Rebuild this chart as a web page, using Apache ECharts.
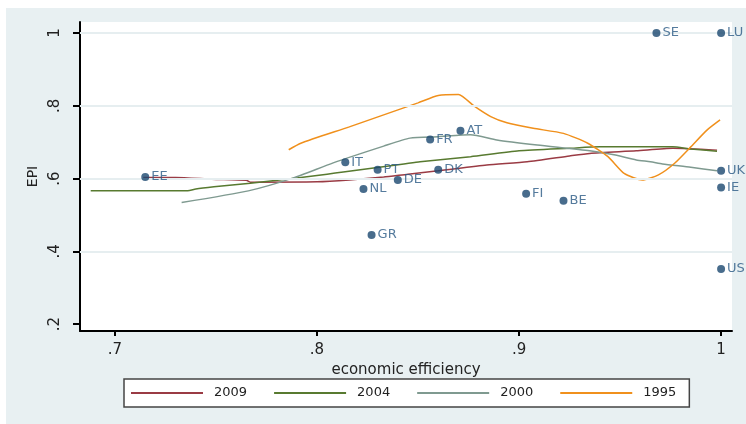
<!DOCTYPE html>
<html>
<head>
<meta charset="utf-8">
<script src="https://cdn.jsdelivr.net/npm/echarts@6/dist/echarts.min.js"></script>
<style>
  html, body { margin: 0; padding: 0; background: #fff; }
  #chart { width: 746px; height: 424px; }
</style>
</head>
<body>
<div id="chart"></div>
<script>
// countries and their (economic efficiency, EPI) position
const countries = ["EE", "IT", "PT", "DE", "NL", "GR", "FR", "AT", "DK", "FI", "BE", "SE", "LU", "UK", "IE", "US"];
const efficiency = [0.715, 0.814, 0.830, 0.840, 0.823, 0.827, 0.856, 0.871, 0.860, 0.9035, 0.922, 0.968, 1.0, 1.0, 1.0, 1.0];
const epi = [0.604, 0.645, 0.624, 0.596, 0.571, 0.445, 0.707, 0.731, 0.624, 0.558, 0.539, 1.0, 1.0, 0.621, 0.575, 0.351];

// smoothed curves, one per year
const years = ["2009", "2004", "2000", "1995"];
const smooth2009 = [
  [0.714, 0.603], [0.730, 0.603], [0.748, 0.598], [0.765, 0.595], [0.767, 0.590],
  [0.800, 0.591], [0.816, 0.596], [0.833, 0.604], [0.845, 0.612], [0.860, 0.621],
  [0.884, 0.637], [0.904, 0.646], [0.925, 0.662], [0.935, 0.669], [0.958, 0.676],
  [0.976, 0.683], [0.998, 0.678]
];
const smooth2004 = [
  [0.688, 0.566], [0.736, 0.566], [0.740, 0.571], [0.749, 0.577], [0.767, 0.587],
  [0.787, 0.599], [0.805, 0.612], [0.813, 0.618], [0.843, 0.640], [0.851, 0.646],
  [0.876, 0.660], [0.900, 0.676], [0.925, 0.683], [0.940, 0.687], [0.976, 0.687],
  [0.985, 0.681], [0.998, 0.675]
];
const smooth2000 = [
  [0.733, 0.534], [0.766, 0.566], [0.788, 0.601], [0.808, 0.643], [0.833, 0.689],
  [0.846, 0.711], [0.860, 0.715], [0.876, 0.720], [0.889, 0.706], [0.909, 0.692],
  [0.935, 0.676], [0.947, 0.665], [0.958, 0.651], [0.965, 0.646], [0.971, 0.640],
  [0.985, 0.631], [0.998, 0.621]
];
const smooth1995 = [
  [0.786, 0.679], [0.792, 0.697], [0.816, 0.742], [0.833, 0.775], [0.850, 0.808],
  [0.860, 0.828], [0.870, 0.831], [0.878, 0.798], [0.886, 0.770], [0.894, 0.753],
  [0.907, 0.738], [0.922, 0.724], [0.934, 0.697], [0.944, 0.660], [0.952, 0.614],
  [0.961, 0.596], [0.969, 0.610], [0.977, 0.642], [0.985, 0.687], [0.993, 0.733],
  [0.9995, 0.761]
];

const xTicks = [0.7, 0.8, 0.9, 1];
const yTicks = [0.2, 0.4, 0.6, 0.8, 1];
const yGridLines = [0.4, 0.6, 0.8, 1];

const lineColors = ["#9a3b44", "#587a30", "#7f9a90", "#f0901c"];
const font = "DejaVu Sans";

function tickText(v) {
  return v >= 1 ? "1" : String(Math.round(v * 10) / 10).replace(/^0/, "");
}

const chart = echarts.init(document.getElementById("chart"));

const lineSeries = [smooth2009, smooth2004, smooth2000, smooth1995].map((d, i) => ({
  name: years[i],
  type: "line",
  data: d,
  symbol: "none",
  smooth: 0.2,
  z: 3,
  lineStyle: { color: lineColors[i], width: 1.5 },
  itemStyle: { color: lineColors[i] },
}));

chart.setOption({
  backgroundColor: "#ffffff",
  animation: false,
  graphic: [
    {
      type: "rect",
      z: -10,
      shape: { x: 6, y: 8, width: 740, height: 416 },
      style: { fill: "#e8f0f2" },
    },
  ],
  grid: {
    left: 80,
    top: 22,
    width: 652,
    height: 309,
    show: true,
    backgroundColor: "#ffffff",
    borderWidth: 0,
  },
  legend: {
    data: years,
    left: 124,
    top: 379,
    orient: "horizontal",
    icon: "rect",
    itemWidth: 72,
    itemHeight: 2,
    itemGap: 27,
    padding: [6, 13, 6, 7],
    backgroundColor: "#ffffff",
    borderColor: "#444",
    borderWidth: 1.5,
    borderRadius: 0,
    textStyle: { fontFamily: font, fontSize: 13, color: "#222", padding: [0, 0, 0, 6], lineHeight: 16 },
  },
  xAxis: {
    type: "value",
    min: 0.6827,
    max: 1.0054,
    name: "economic efficiency",
    nameLocation: "middle",
    nameGap: 22,
    nameTextStyle: { fontFamily: font, fontSize: 15, color: "#222" },
    axisLine: { show: true, onZero: false, lineStyle: { color: "#000", width: 2 } },
    axisTick: { show: true, length: 5, customValues: xTicks, lineStyle: { color: "#000", width: 2 } },
    axisLabel: {
      customValues: xTicks,
      formatter: tickText,
      fontFamily: font,
      fontSize: 15,
      color: "#222",
      margin: 12,
    },
    splitLine: { show: false },
  },
  yAxis: {
    type: "value",
    min: 0.1808,
    max: 1.0302,
    name: "EPI",
    nameLocation: "middle",
    nameGap: 40,
    nameTextStyle: { fontFamily: font, fontSize: 14, color: "#222" },
    axisLine: { show: true, onZero: false, lineStyle: { color: "#000", width: 2 } },
    axisTick: { show: true, length: 7, customValues: yTicks, lineStyle: { color: "#000", width: 2 } },
    axisLabel: {
      customValues: yTicks,
      formatter: tickText,
      rotate: 90,
      fontFamily: font,
      fontSize: 15,
      color: "#222",
      margin: 17,
    },
    splitLine: { show: false },
  },
  series: [
    {
      // horizontal grid lines
      type: "line",
      data: [],
      silent: true,
      z: 1,
      markLine: {
        silent: true,
        symbol: "none",
        label: { show: false },
        lineStyle: { color: "#e6eef0", width: 2, type: "solid" },
        data: yGridLines.map((v) => ({ yAxis: v })),
      },
    },
    ...lineSeries,
    {
      type: "scatter",
      z: 5,
      symbolSize: 8,
      itemStyle: { color: "#1a476f" },
      label: {
        show: true,
        position: "right",
        distance: 2,
        formatter: (p) => p.name,
        fontFamily: font,
        fontSize: 13,
        color: "#2a5a85",
      },
      data: countries.map((c, i) => ({ name: c, value: [efficiency[i], epi[i]] })),
    },
  ],
});
</script>
</body>
</html>
